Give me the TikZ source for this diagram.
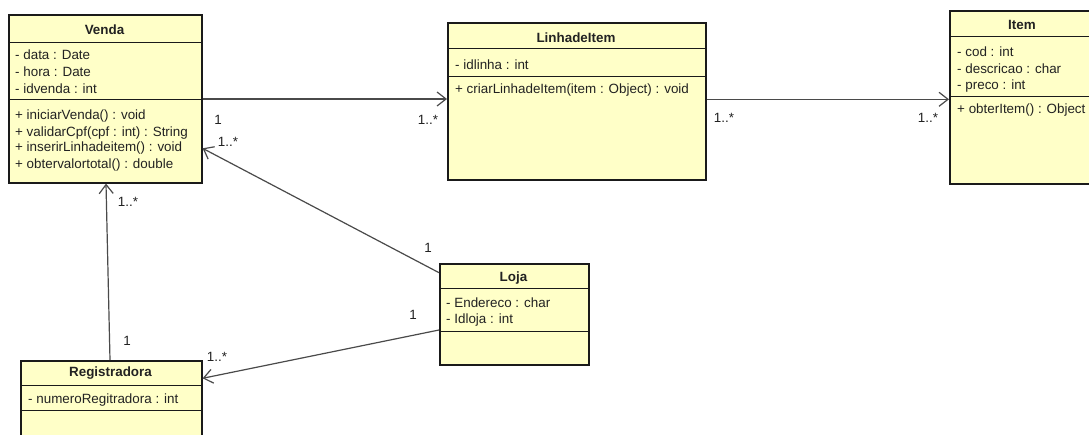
\documentclass[tikz,border=0pt]{standalone}
\usepackage{fontspec}
\setmainfont{Liberation Sans}
\usetikzlibrary{arrows.meta,calc}
\definecolor{clsfill}{HTML}{FFFFC8}
\definecolor{clsline}{HTML}{1A1A1A}
\definecolor{conn}{HTML}{4A4A4A}
\definecolor{txt}{HTML}{222222}
\tikzset{
  cls/.style={draw=clsline,line width=1.6pt,fill=clsfill,anchor=north west,inner sep=0pt},
  sep/.style={draw=clsline,line width=0.9pt},
  title/.style={font=\fontsize{13.4}{15}\selectfont\bfseries,text=txt,inner sep=0pt,anchor=center},
  member/.style={font=\fontsize{13.4}{15}\selectfont,text=txt,inner sep=0pt,anchor=west},
  mult/.style={font=\fontsize{13.4}{15}\selectfont,text=txt,inner sep=0pt,anchor=center},
  assoc/.style={draw=conn,line width=1.2pt,-{Straight Barb[length=9pt,width=14pt,line width=1.2pt]}}
}
\begin{document}
\begin{tikzpicture}[x=1pt,y=-1pt]
\useasboundingbox[fill=white] (0,0) rectangle (1089,434);
\clip (0,0) rectangle (1089,434);

% ---------- Venda ----------
\node[cls,minimum width=193pt,minimum height=168pt] (venda) at (8,14) {};
\draw[sep] ($(venda.north west)+(0,28.3)$) -- ($(venda.north east)+(0,28.3)$);
\draw[sep] ($(venda.north west)+(0,85.3)$) -- ($(venda.north east)+(0,85.3)$);
\node[title] (vendat) at (104.5,30) {Venda};
\node[member] (v1) at (15,55) {- data : Date};
\node[member] (v2) at (15,72) {- hora : Date};
\node[member] (v3) at (15,89) {- idvenda : int};
\node[member] (v4) at (15,116) {+ iniciarVenda() : void};
\node[member] (v5) at (15,132.7) {+ validarCpf(cpf : int) : String};
\node[member] (v6) at (15,148.5) {+ inserirLinhadeitem() : void};
\node[member] (v7) at (15,165) {+ obtervalortotal() : double};

% ---------- LinhadeItem ----------
\node[cls,minimum width=258pt,minimum height=157pt] (linha) at (447,22) {};
\draw[sep] ($(linha.north west)+(0,26.3)$) -- ($(linha.north east)+(0,26.3)$);
\draw[sep] ($(linha.north west)+(0,54)$) -- ($(linha.north east)+(0,54)$);
\node[title] (linhat) at (576,38) {LinhadeItem};
\node[member] (l1) at (455,64.3) {- idlinha : int};
\node[member] (l2) at (455,90) {+ criarLinhadeItem(item : Object) : void};

% ---------- Item ----------
\node[cls,minimum width=160pt,minimum height=173pt] (item) at (949,10) {};
\draw[sep] ($(item.north west)+(0,26.7)$) -- ($(item.north east)+(0,26.7)$);
\draw[sep] ($(item.north west)+(0,86.7)$) -- ($(item.north east)+(0,86.7)$);
\node[title] (itemt) at (1022,25) {Item};
\node[member] (i1) at (957,51.7) {- cod : int};
\node[member] (i2) at (957,68.5) {- descricao : char};
\node[member] (i3) at (957,86) {- preco : int};
\node[member] (i4) at (957,110) {+ obterItem() : Object};

% ---------- Loja ----------
\node[cls,minimum width=149pt,minimum height=101pt] (loja) at (439,263) {};
\draw[sep] ($(loja.north west)+(0,25.3)$) -- ($(loja.north east)+(0,25.3)$);
\draw[sep] ($(loja.north west)+(0,68.7)$) -- ($(loja.north east)+(0,68.7)$);
\node[title] (lojat) at (513.5,277.7) {Loja};
\node[member] (j1) at (446,302.7) {- Endereco : char};
\node[member] (j2) at (446,320) {- Idloja : int};

% ---------- Registradora ----------
\node[cls,minimum width=181pt,minimum height=90pt] (reg) at (20,360) {};
\draw[sep] ($(reg.north west)+(0,25)$) -- ($(reg.north east)+(0,25)$);
\draw[sep] ($(reg.north west)+(0,50.7)$) -- ($(reg.north east)+(0,50.7)$);
\node[title] (regt) at (110.5,373.3) {Registradora};
\node[member] (r1) at (28,400) {- numeroRegitradora : int};

% ---------- Connectors ----------
\draw[assoc] ($(venda.north east)+(0,85)$) -- ($(linha.north west)+(0,77)$);
\draw[assoc] ($(linha.north east)+(0,77.3)$) -- ($(item.north west)+(0,89.3)$);
\draw[assoc] ($(loja.north west)+(0,9.7)$) -- ($(venda.north east)+(0,134.3)$);
\draw[assoc] ($(loja.north west)+(0,67)$) -- ($(reg.north east)+(0,18.3)$);
\draw[assoc] ($(reg.north west)+(90,0)$) -- ($(venda.south west)+(98,0)$);

% ---------- Multiplicities ----------
\node[mult] (m1) at (218,120) {1};
\node[mult] (m2) at (428,120) {1..*};
\node[mult] (m3) at (724,118) {1..*};
\node[mult] (m4) at (928,118) {1..*};
\node[mult] (m5) at (228,142) {1..*};
\node[mult] (m6) at (428,248) {1};
\node[mult] (m7) at (413,315) {1};
\node[mult] (m8) at (217,357) {1..*};
\node[mult] (m9) at (128,201.7) {1..*};
\node[mult] (m10) at (127,340.7) {1};
\end{tikzpicture}
\end{document}
